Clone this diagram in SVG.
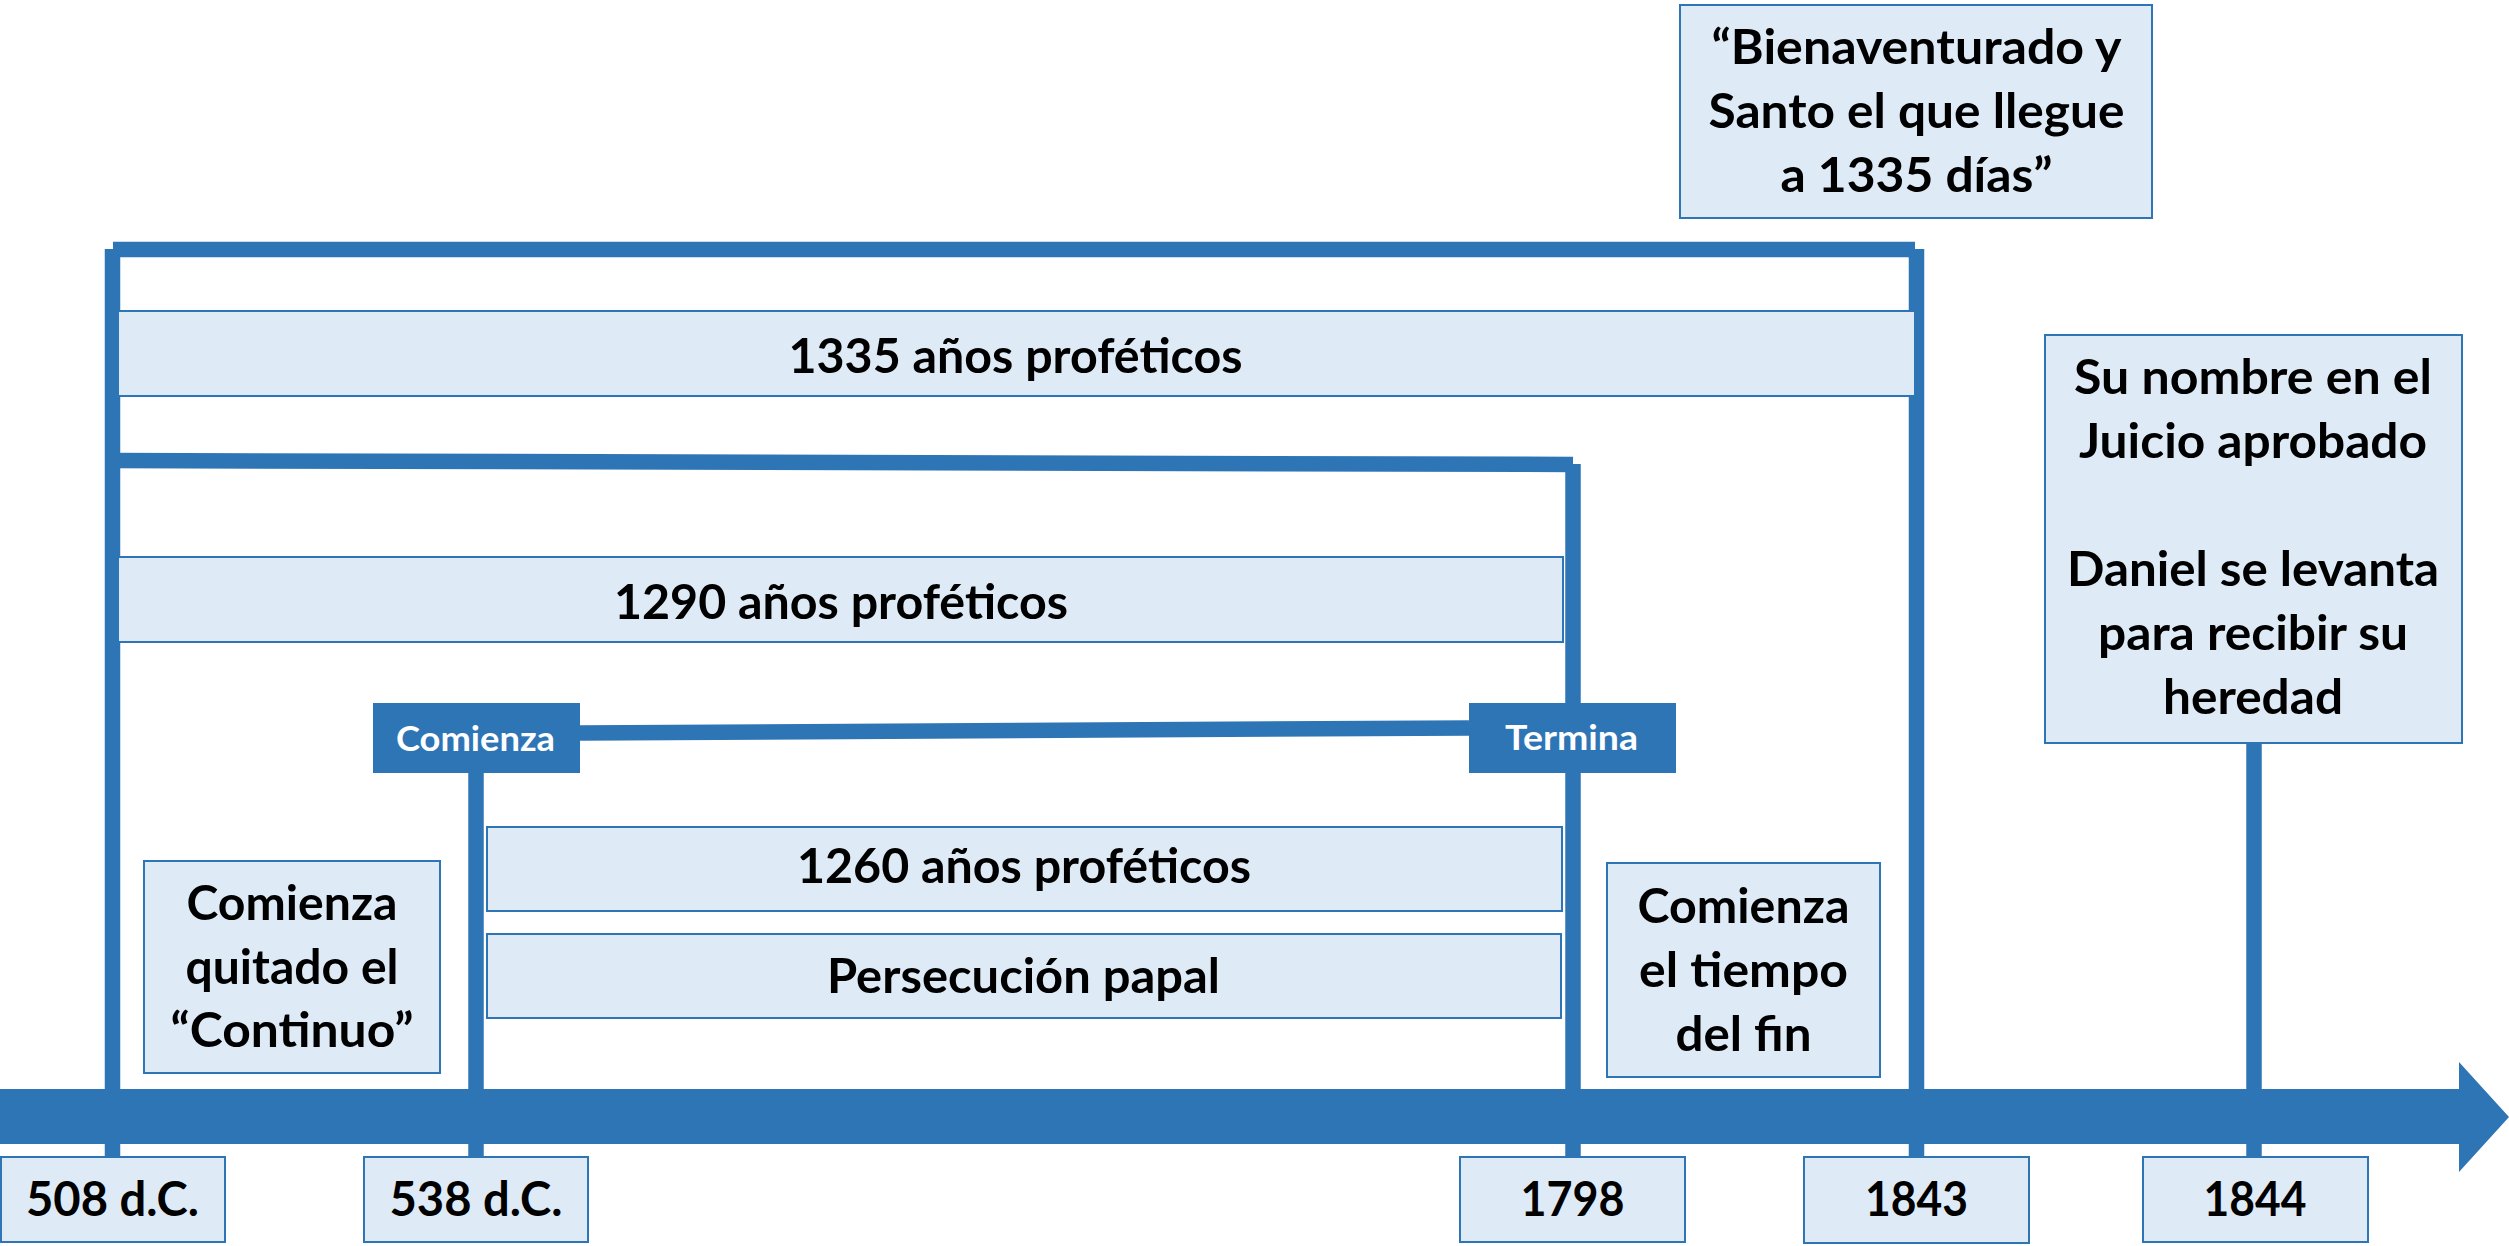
<svg xmlns="http://www.w3.org/2000/svg" width="2509" height="1246" viewBox="0 0 2509 1246">
<defs>
<style>
.bx{fill:#DEEBF7;stroke:#2E75B6;stroke-width:2}
.tag{fill:#2E75B6}
.ln{stroke:#2E75B6;stroke-width:15.5;fill:none;stroke-linecap:butt}
.t{font-family:Lato,"Liberation Sans",sans-serif;font-weight:700;font-size:48px;fill:#000;text-anchor:middle}
.w{font-family:Lato,"Liberation Sans",sans-serif;font-weight:700;font-size:35px;fill:#fff;text-anchor:middle}
</style>
</defs>
<rect width="2509" height="1246" fill="#fff"/>
<g id="connectors">
<line class="ln" x1="112.5" y1="249" x2="112.5" y2="1157"/>
<line class="ln" x1="476" y1="773" x2="476" y2="1157"/>
<line class="ln" x1="1573" y1="464" x2="1573" y2="1157"/>
<line class="ln" x1="1916.5" y1="249" x2="1916.5" y2="1157"/>
<line class="ln" x1="2254" y1="743" x2="2254" y2="1157"/>
<line class="ln" x1="113" y1="249.5" x2="1915" y2="249.5"/>
<line class="ln" x1="113" y1="460.5" x2="1573" y2="464.5"/>
<line class="ln" x1="580" y1="733" x2="1469" y2="728"/>
<path id="axis" fill="#2E75B6" d="M0 1089 H2459 V1062 L2509 1117 L2459 1172 V1144 H0 Z"/>
</g>
<g id="node-1335-quote">
<rect class="bx" x="1680" y="5" width="472" height="213"/>
<text class="t" x="1916.5" y="64" textLength="410" lengthAdjust="spacingAndGlyphs">“Bienaventurado y</text>
<text class="t" x="1916.5" y="128" textLength="416" lengthAdjust="spacingAndGlyphs">Santo el que llegue</text>
<text class="t" x="1916.5" y="192" textLength="272" lengthAdjust="spacingAndGlyphs">a 1335 días”</text>
</g>
<g id="node-1335">
<rect class="bx" x="118" y="311" width="1797" height="85"/>
<text class="t" x="1015.5" y="373" textLength="454" lengthAdjust="spacingAndGlyphs">1335 años proféticos</text>
</g>
<g id="node-1290">
<rect class="bx" x="118" y="557" width="1445" height="85"/>
<text class="t" x="841" y="619" textLength="454" lengthAdjust="spacingAndGlyphs">1290 años proféticos</text>
</g>
<g id="node-comienza">
<rect class="tag" x="373" y="703" width="207" height="70"/>
<text class="w" x="475.5" y="750.5" textLength="159" lengthAdjust="spacingAndGlyphs">Comienza</text>
</g>
<g id="node-termina">
<rect class="tag" x="1469" y="703" width="207" height="70"/>
<text class="w" x="1571.5" y="750" textLength="133" lengthAdjust="spacingAndGlyphs">Termina</text>
</g>
<g id="node-1260">
<rect class="bx" x="487" y="827" width="1075" height="84"/>
<text class="t" x="1024" y="883" textLength="454" lengthAdjust="spacingAndGlyphs">1260 años proféticos</text>
</g>
<g id="node-persecucion">
<rect class="bx" x="487" y="934" width="1074" height="84"/>
<text class="t" x="1023.5" y="992.5" textLength="393" lengthAdjust="spacingAndGlyphs">Persecución papal</text>
</g>
<g id="node-continuo">
<rect class="bx" x="144" y="861" width="296" height="212"/>
<text class="t" x="292" y="920" textLength="211" lengthAdjust="spacingAndGlyphs">Comienza</text>
<text class="t" x="292" y="983.5" textLength="213" lengthAdjust="spacingAndGlyphs">quitado el</text>
<text class="t" x="292" y="1047" textLength="243" lengthAdjust="spacingAndGlyphs">“Continuo”</text>
</g>
<g id="node-tiempo-fin">
<rect class="bx" x="1607" y="863" width="273" height="214"/>
<text class="t" x="1743.5" y="922.5" textLength="212" lengthAdjust="spacingAndGlyphs">Comienza</text>
<text class="t" x="1743.5" y="986.5" textLength="209" lengthAdjust="spacingAndGlyphs">el tiempo</text>
<text class="t" x="1743.5" y="1050.5" textLength="136" lengthAdjust="spacingAndGlyphs">del fin</text>
</g>
<g id="node-juicio">
<rect class="bx" x="2045" y="335" width="417" height="408"/>
<text class="t" x="2253" y="394" textLength="358" lengthAdjust="spacingAndGlyphs">Su nombre en el</text>
<text class="t" x="2253" y="458" textLength="348" lengthAdjust="spacingAndGlyphs">Juicio aprobado</text>
<text class="t" x="2253" y="586" textLength="372" lengthAdjust="spacingAndGlyphs">Daniel se levanta</text>
<text class="t" x="2253" y="650" textLength="310" lengthAdjust="spacingAndGlyphs">para recibir su</text>
<text class="t" x="2253" y="714" textLength="180" lengthAdjust="spacingAndGlyphs">heredad</text>
</g>
<g id="node-508">
<rect class="bx" x="1" y="1157" width="224" height="85"/>
<text class="t" x="112.5" y="1216" textLength="173" lengthAdjust="spacingAndGlyphs">508 d.C.</text>
</g>
<g id="node-538">
<rect class="bx" x="364" y="1157" width="224" height="85"/>
<text class="t" x="476" y="1216" textLength="173" lengthAdjust="spacingAndGlyphs">538 d.C.</text>
</g>
<g id="node-1798">
<rect class="bx" x="1460" y="1157" width="225" height="85"/>
<text class="t" x="1572.5" y="1216" textLength="104" lengthAdjust="spacingAndGlyphs">1798</text>
</g>
<g id="node-1843">
<rect class="bx" x="1804" y="1157" width="225" height="86"/>
<text class="t" x="1916.5" y="1216" textLength="103" lengthAdjust="spacingAndGlyphs">1843</text>
</g>
<g id="node-1844">
<rect class="bx" x="2143" y="1157" width="225" height="85"/>
<text class="t" x="2255" y="1216" textLength="103" lengthAdjust="spacingAndGlyphs">1844</text>
</g>
</svg>
